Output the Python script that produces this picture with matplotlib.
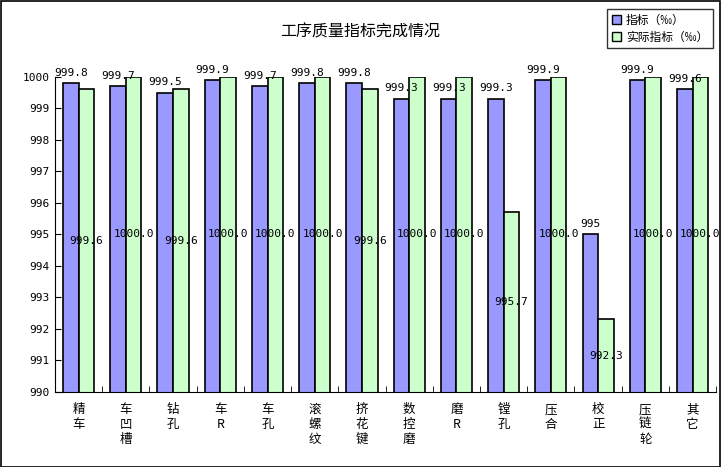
import numpy as np
import matplotlib.pyplot as plt
from matplotlib.patches import Patch

plt.rcParams['font.family'] = ['Noto Sans CJK SC', 'DejaVu Sans']

categories = ['精车', '车凹槽', '钻孔', '车R', '车孔', '滚螺纹', '挤花键',
              '数控磨', '磨R', '镗孔', '压合', '校正', '压链轮', '其它']
target = [999.8, 999.7, 999.5, 999.9, 999.7, 999.8, 999.8,
          999.3, 999.3, 999.3, 999.9, 995, 999.9, 999.6]
actual = [999.6, 1000.0, 999.6, 1000.0, 1000.0, 1000.0, 999.6,
          1000.0, 1000.0, 995.7, 1000.0, 992.3, 1000.0, 1000.0]
target_labels = ['999.8', '999.7', '999.5', '999.9', '999.7', '999.8', '999.8',
                 '999.3', '999.3', '999.3', '999.9', '995', '999.9', '999.6']
actual_labels = ['999.6', '1000.0', '999.6', '1000.0', '1000.0', '1000.0', '999.6',
                 '1000.0', '1000.0', '995.7', '1000.0', '992.3', '1000.0', '1000.0']

blue = '#9999FF'
green = '#CCFFCC'
mono = 'DejaVu Sans Mono'

fig = plt.figure(figsize=(7.21, 4.67), dpi=100)
ax = fig.add_axes([0.0763, 0.1606, 0.917, 0.675])

x = np.arange(len(categories))
w = 0.33
ax.bar(x - w / 2, target, w, color=blue, edgecolor='black', linewidth=1.2)
ax.bar(x + w / 2, actual, w, color=green, edgecolor='black', linewidth=1.2)

for i in range(len(categories)):
    ax.text(x[i] - w / 2, target[i] + 0.17, target_labels[i], ha='center', va='bottom',
            fontsize=8, family=mono, clip_on=False)
    ax.text(x[i] + w / 2, (990 + actual[i]) / 2, actual_labels[i], ha='center', va='center',
            fontsize=8, family=mono)

ax.set_ylim(990, 1000)
ax.set_xlim(-0.5, len(categories) - 0.5)
ax.set_yticks(np.arange(990, 1001, 1))
ax.set_yticklabels([str(v) for v in range(990, 1001)], fontsize=8, family=mono)
ax.tick_params(axis='y', direction='in', length=4, pad=4)

ax.set_xticks(x)
ax.set_xticklabels(['\n'.join(c) for c in categories], fontsize=9, linespacing=1.2)
ax.set_xticks(np.arange(-0.5, len(categories), 1), minor=True)
ax.tick_params(axis='x', which='major', length=0, pad=8)
ax.tick_params(axis='x', which='minor', direction='in', length=4)

ax.spines['top'].set_visible(False)
ax.spines['right'].set_visible(False)

fig.text(0.5, 0.932, '工序质量指标完成情况', ha='center', va='center', fontsize=11.5)

handles = [Patch(facecolor=blue, edgecolor='black', label='指标（‰）'),
           Patch(facecolor=green, edgecolor='black', label='实际指标（‰）')]
leg = fig.legend(handles=handles, loc='upper right', bbox_to_anchor=(0.997, 0.993),
                 fontsize=8.5, frameon=True, fancybox=False, edgecolor='black',
                 handlelength=0.8, handleheight=0.8, handletextpad=0.4,
                 borderpad=0.4, labelspacing=0.3)
leg.get_frame().set_linewidth(1.0)

fig.patches.append(plt.Rectangle((0.001, 0.001), 0.997, 0.997, transform=fig.transFigure,
                                 fill=False, edgecolor='black', linewidth=1.2))

fig.savefig('out.png', dpi=100)
